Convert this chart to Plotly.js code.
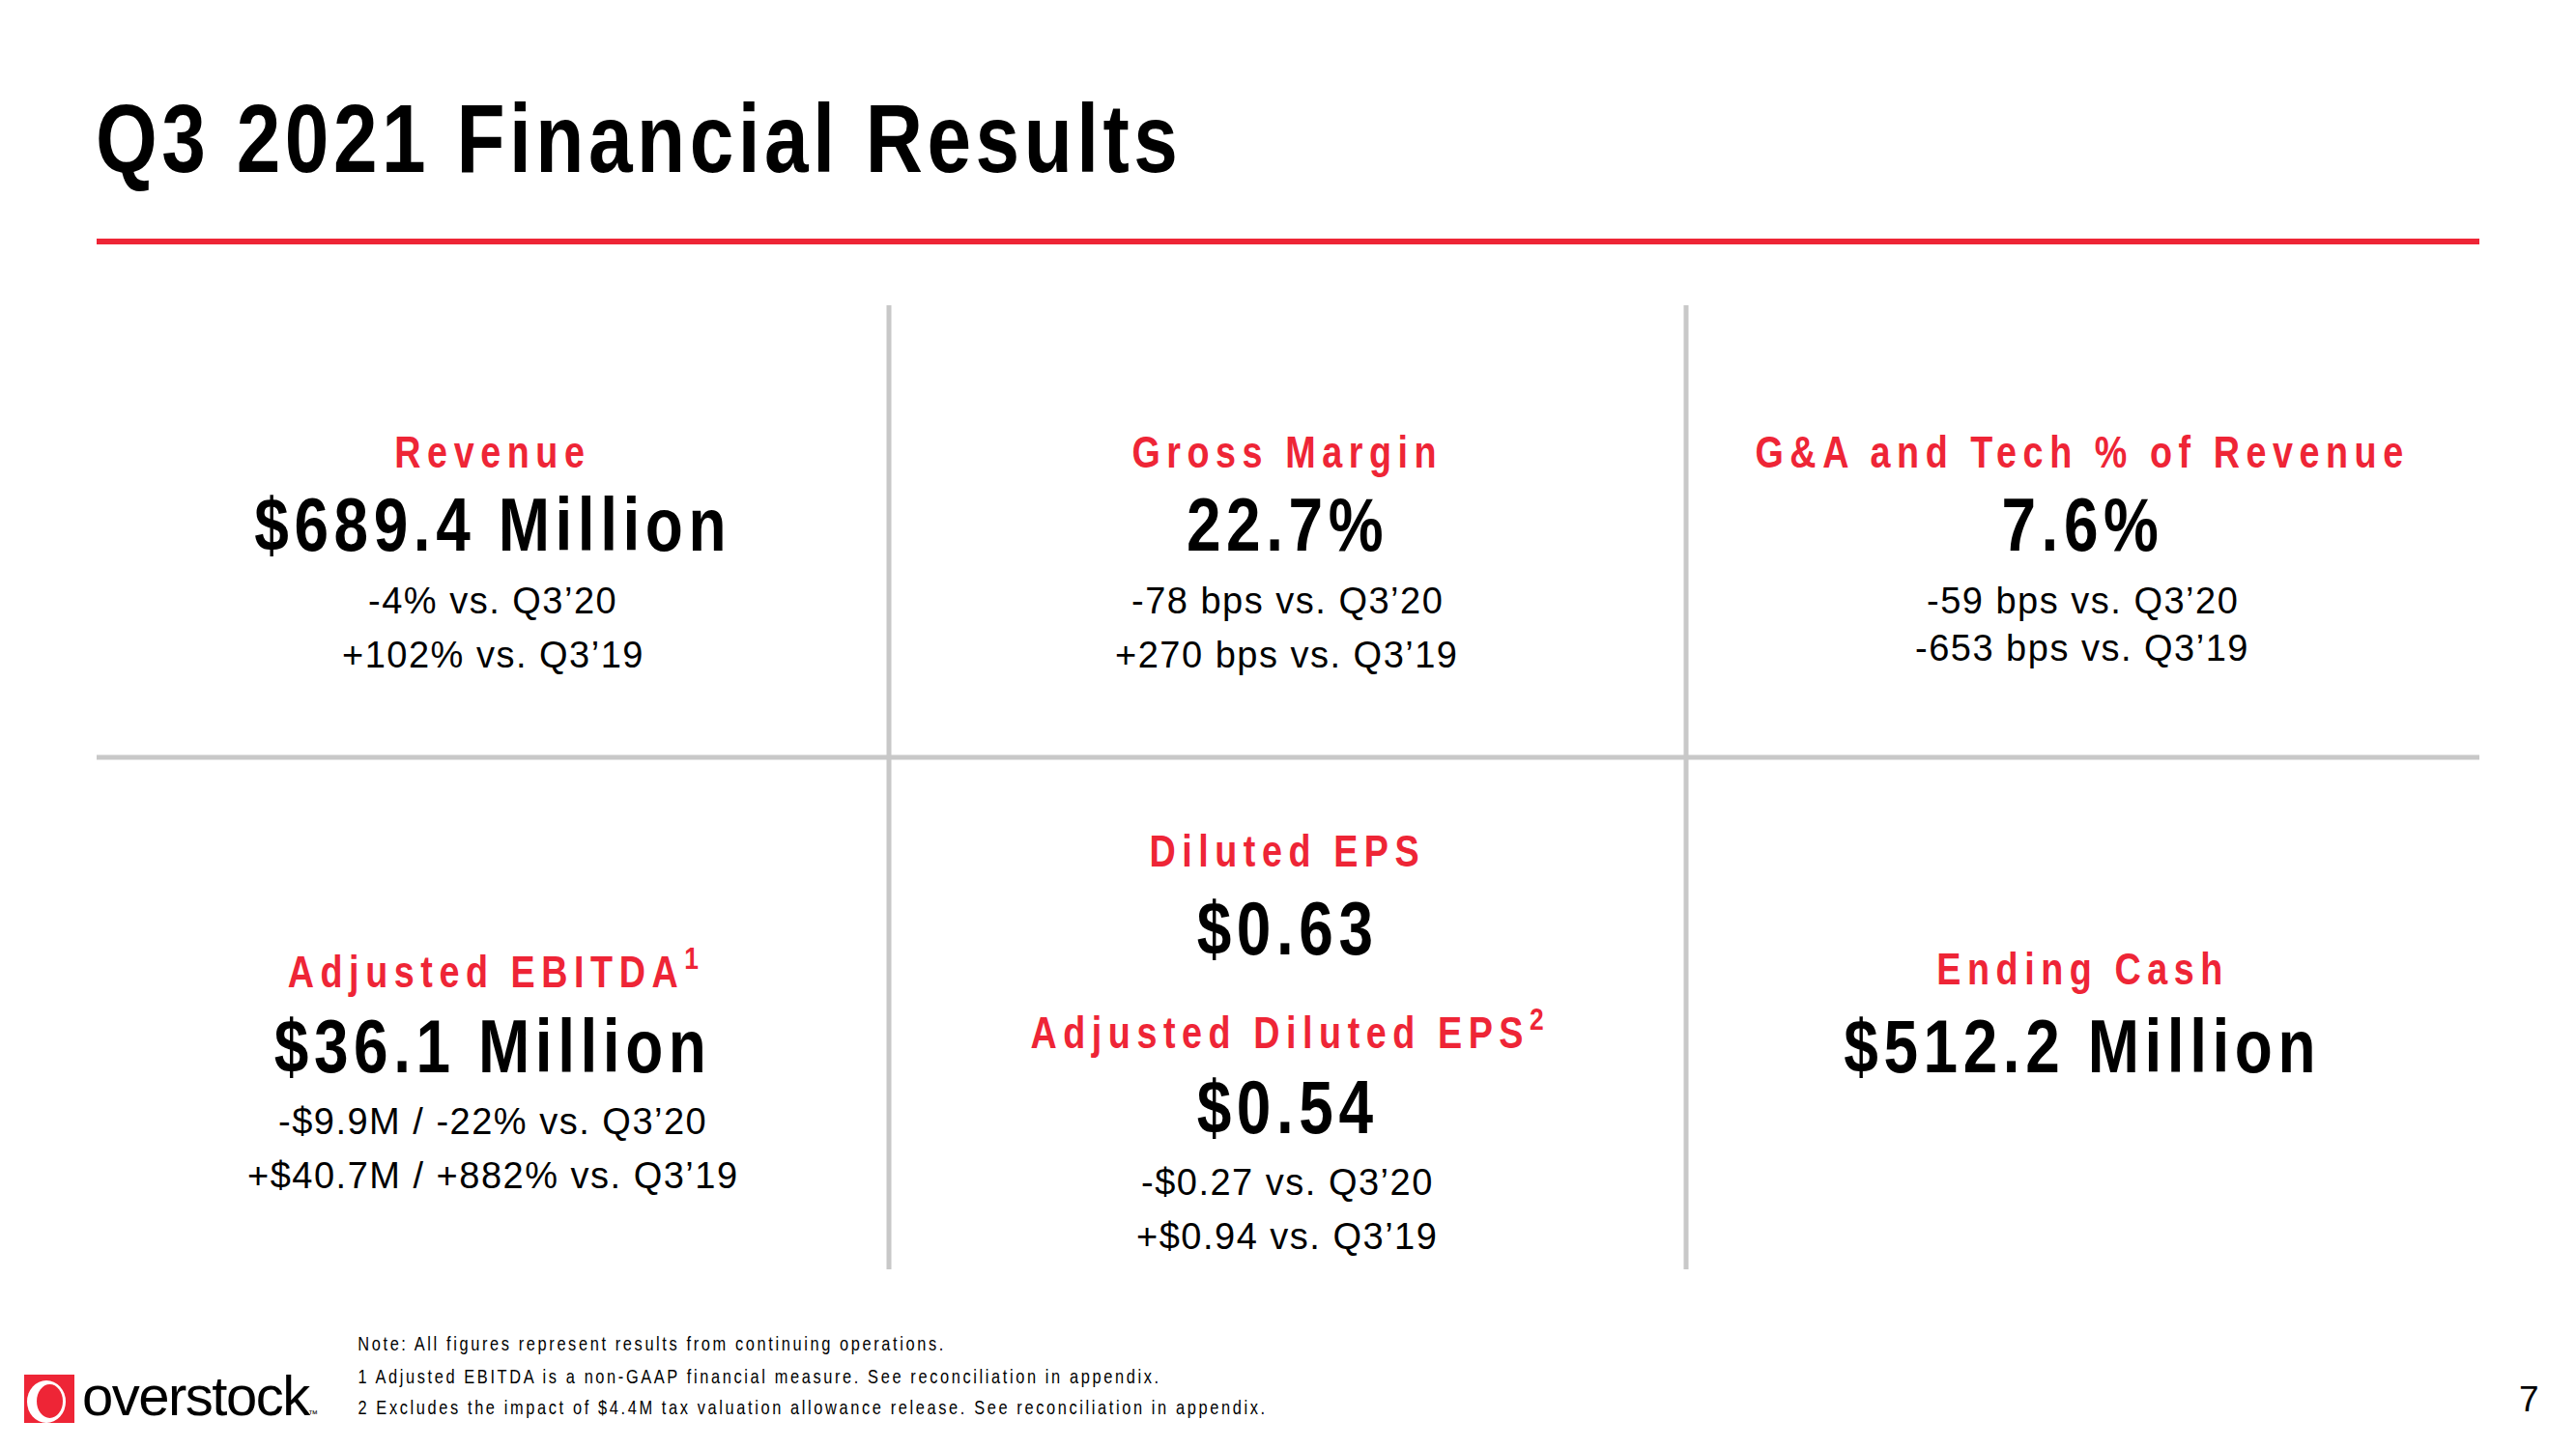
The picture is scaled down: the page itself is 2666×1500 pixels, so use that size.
<!DOCTYPE html>
<html>
<head>
<meta charset="utf-8">
<script src="https://cdn.plot.ly/plotly-3.0.1.min.js"></script>
<style>
  html, body { margin: 0; padding: 0; background: #ffffff; }
  #chart { width: 2666px; height: 1500px; }
</style>
</head>
<body>
<div id="chart"></div>
<script>
// ---------- DATA ----------
const slideTitle = 'Q3 2021 Financial Results';
const metricNames = ['Revenue', 'Gross Margin', 'G&A and Tech % of Revenue', 'Adjusted EBITDA', 'Diluted EPS', 'Adjusted Diluted EPS', 'Ending Cash'];
const footnoteMarks = ['', '', '', '1', '', '2', ''];
const metricValues = ['$689.4 Million', '22.7%', '7.6%', '$36.1 Million', '$0.63', '$0.54', '$512.2 Million'];
const vsQ3_20 = ['-4% vs. Q3’20', '-78 bps vs. Q3’20', '-59 bps vs. Q3’20', '-$9.9M / -22% vs. Q3’20', '', '-$0.27 vs. Q3’20', ''];
const vsQ3_19 = ['+102% vs. Q3’19', '+270 bps vs. Q3’19', '-653 bps vs. Q3’19', '+$40.7M / +882% vs. Q3’19', '', '+$0.94 vs. Q3’19', ''];
const footnotes = [
  'Note: All figures represent results from continuing operations.',
  '1 Adjusted EBITDA is a non-GAAP financial measure. See reconciliation in appendix.',
  '2 Excludes the impact of $4.4M tax valuation allowance release. See reconciliation in appendix.'
];
const brandName = 'overstock';
const pageNumber = '7';

// ---------- LAYOUT (positions in slide pixels) ----------
const W = 2666, H = 1500;
const RED = '#EE2536';
const GRID = '#C8C8C8';
const SANS = '"Liberation Sans", Arial, Helvetica, sans-serif';

const cellX   = [510, 1332, 2155, 510, 1332, 1332, 2155];
const headY   = [468, 468, 468, 1003, 881, 1066, 1003];
const valueY  = [543, 543, 543, 1083, 961, 1146, 1083];
const sub1Y   = [622, 622, 622, 1161, null, 1224, null];
const sub2Y   = [678, 678, 671, 1217, null, 1280, null];
const footY   = [1391, 1425, 1457];

function spaced(t, px) {
  return '<span style="letter-spacing:' + px + 'px">' + t + '</span>';
}

const annotations = [];
const condense = [];   // horizontal squeeze per annotation (narrow-font look)
function addText(text, x, y, opts, squeeze) {
  annotations.push(Object.assign({
    text: text, x: x, y: y, xref: 'x', yref: 'y',
    showarrow: false, xanchor: 'center', yanchor: 'middle',
    borderpad: 0
  }, opts));
  condense.push(squeeze || 1);
}

// Title
addText(spaced(slideTitle, 5.5), 98, 143, {
  xanchor: 'left',
  font: { family: SANS, size: 100, color: '#000000', weight: 'bold' }
}, 0.82);

// Metric cells
metricNames.forEach(function (name, i) {
  const mark = footnoteMarks[i] ? '<sup>' + footnoteMarks[i] + '</sup>' : '';
  addText(spaced(name, 8) + mark, cellX[i], headY[i], {
    font: { family: SANS, size: 46, color: RED, weight: 'bold' }
  }, 0.82);
  addText(spaced(metricValues[i], 6.8), cellX[i], valueY[i], {
    font: { family: SANS, size: 78, color: '#000000', weight: 'bold' }
  }, 0.82);
  if (vsQ3_20[i]) {
    addText(spaced(vsQ3_20[i], 1.5), cellX[i], sub1Y[i], {
      font: { family: SANS, size: 38, color: '#000000' }
    });
  }
  if (vsQ3_19[i]) {
    addText(spaced(vsQ3_19[i], 1.5), cellX[i], sub2Y[i], {
      font: { family: SANS, size: 38, color: '#000000' }
    });
  }
});

// Footnotes
footnotes.forEach(function (t, i) {
  addText(spaced(t, 3.2), 369, footY[i], {
    xanchor: 'left',
    font: { family: SANS, size: 20, color: '#000000' }
  }, 0.82);
});

// Logo wordmark and page number
addText(spaced(brandName, -1.5), 84, 1444, {
  xanchor: 'left',
  font: { family: SANS, size: 58, color: '#000000' }
});
addText('™', 318, 1463, {
  xanchor: 'left',
  font: { family: SANS, size: 10, color: '#000000' }
});
addText(pageNumber, 2617, 1448, {
  font: { family: SANS, size: 37, color: '#000000' }
});

const shapes = [
  // red rule under title
  { type: 'line', xref: 'x', yref: 'y', x0: 100, x1: 2566, y0: 250, y1: 250, line: { color: RED, width: 6 } },
  // grid lines
  { type: 'line', xref: 'x', yref: 'y', x0: 920, x1: 920, y0: 316, y1: 1314, line: { color: GRID, width: 5 } },
  { type: 'line', xref: 'x', yref: 'y', x0: 1745, x1: 1745, y0: 316, y1: 1314, line: { color: GRID, width: 5 } },
  { type: 'line', xref: 'x', yref: 'y', x0: 100, x1: 2566, y0: 784, y1: 784, line: { color: GRID, width: 5 } },
  // logo mark: red square with a white ring, heavier on the left
  { type: 'rect', xref: 'x', yref: 'y', x0: 25, x1: 77, y0: 1423, y1: 1473, fillcolor: RED, line: { width: 0 } },
  { type: 'circle', xref: 'x', yref: 'y', x0: 28, x1: 68, y0: 1429, y1: 1473, fillcolor: '#FFFFFF', line: { width: 0 } },
  { type: 'circle', xref: 'x', yref: 'y', x0: 38, x1: 65, y0: 1433, y1: 1468, fillcolor: RED, line: { width: 0 } }
];

const layout = {
  width: W, height: H,
  margin: { l: 0, r: 0, t: 0, b: 0 },
  paper_bgcolor: '#FFFFFF', plot_bgcolor: '#FFFFFF',
  xaxis: { range: [0, W], visible: false, fixedrange: true },
  yaxis: { range: [H, 0], visible: false, fixedrange: true },
  showlegend: false,
  annotations: annotations,
  shapes: shapes
};

function squeezeTexts() {
  document.querySelectorAll('#chart g.annotation').forEach(function (g) {
    const idx = +g.getAttribute('data-index');
    const k = condense[idx];
    if (!k || k === 1) return;
    const t = g.querySelector('text.annotation-text');
    if (!t || t.getAttribute('data-squeezed')) return;
    const bb = t.getBBox();
    const anchorX = annotations[idx].xanchor === 'left' ? bb.x : bb.x + bb.width / 2;
    const prev = t.getAttribute('transform') || '';
    t.setAttribute('transform', prev + ' translate(' + anchorX + ' 0) scale(' + k + ' 1) translate(' + (-anchorX) + ' 0)');
    t.setAttribute('data-squeezed', '1');
  });
}

Plotly.newPlot('chart', [], layout, { displayModeBar: false, staticPlot: true }).then(squeezeTexts);
</script>
</body>
</html>
